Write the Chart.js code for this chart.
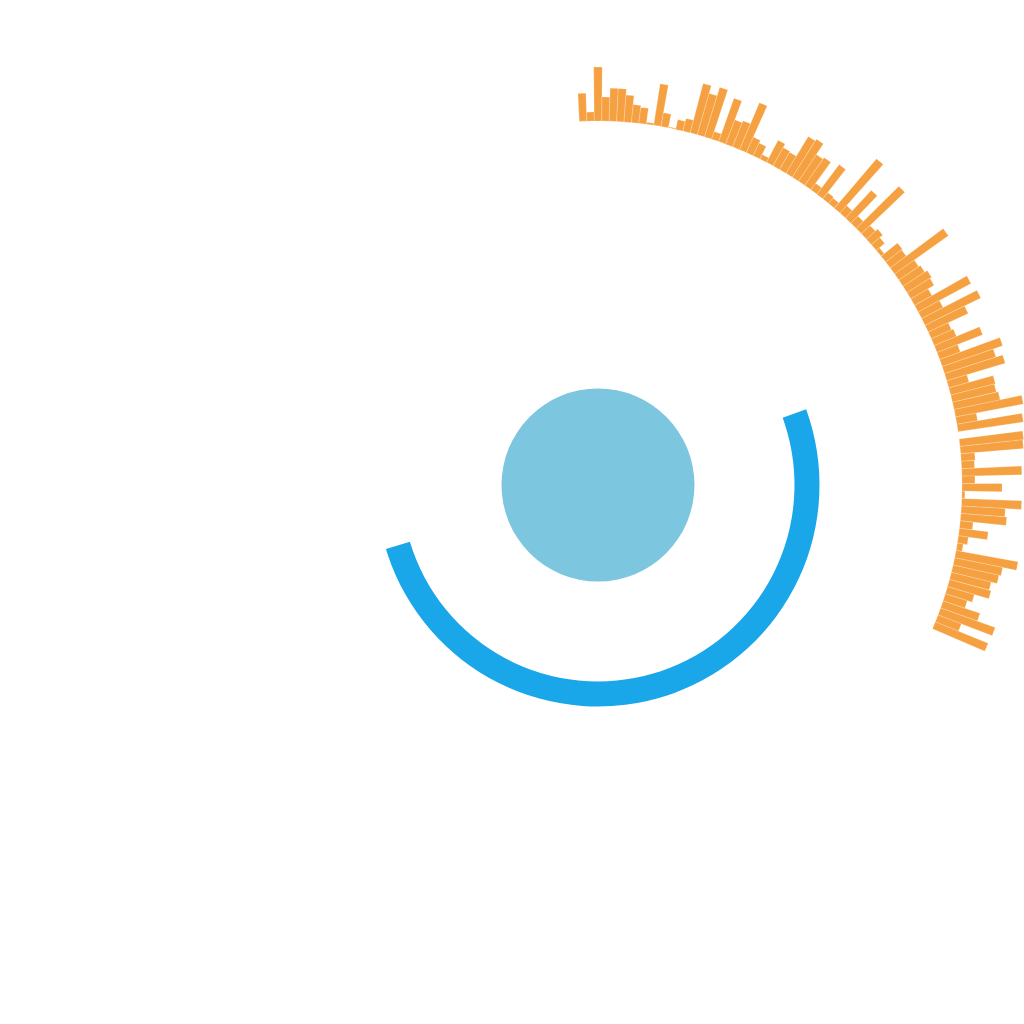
<!DOCTYPE html>
<html>
<head>
<meta charset="utf-8">
<script src="https://cdn.jsdelivr.net/npm/chart.js@4.4.1/dist/chart.umd.min.js"></script>
<style>
html,body{margin:0;padding:0;background:#ffffff;overflow:hidden}
#wrap{position:relative;width:1024px;height:1024px}
#wrap canvas{position:absolute;left:0;top:0}
</style>
</head>
<body>
<div id="wrap">
<canvas id="bars" width="1024" height="1024"></canvas>
<canvas id="rings" width="1024" height="1024"></canvas>
</div>
<script>
// ---- data ----
const barValues = [
  28, 9, 54, 24, 33, 33, 27, 18, 16, 2,
  42, 14, 1, 10, 13, 51, 43, 52, 8, 46,
  26, 28, 51, 17, 14, 5, 25, 21, 20, 43,
  45, 32, 34, 8, 37, 8, 7, 65, 10, 38,
  10, 60, 12, 15, 11, 4, 21, 20, 66, 24,
  26, 29, 27, 20, 60, 24, 62, 44, 22, 24,
  49, 22, 64, 54, 61, 21, 46, 45, 47, 69,
  21, 66, 0, 64, 63, 14, 13, 60, 13, 40,
  3, 60, 44, 46, 13, 29, 10, 6, 63, 49,
  47, 41, 43, 28, 23, 39, 58, 25, 57
];
const barLabels = barValues.map((v, i) => 'B' + (i + 1));
const barStartDeg = -2.94;     // where the first bar starts (degrees, clockwise from top)
const barSpanDeg = 116.2;      // total sweep of the bars
const ringSegments = [70, 183.2, 106.8]; // degrees: lead gap, blue arc, remaining gap
const centerValue = [1];

// ---- style ----
const ORANGE = '#F6A141';
const BLUE = '#1AA7EA';
const LIGHT = '#7DC6DF';
const PAD = {left: 172, top: 59, right: 0, bottom: 113};

const barWidthDeg = barSpanDeg / barValues.length;
const spacerDeg = 360 - barSpanDeg;

const barBase = {
  id: 'barBase',
  afterDatasetsUpdate(chart) {
    const scale = chart.scales.r;
    const inner = scale.getDistanceFromCenterForValue(0);
    chart.getDatasetMeta(0).data.forEach(arc => { arc.innerRadius = inner; });
  }
};

new Chart(document.getElementById('bars'), {
  type: 'polarArea',
  data: {
    labels: [...barLabels, ''],
    datasets: [{
      data: [...barValues, 0],
      backgroundColor: ctx => ctx.dataIndex < barValues.length ? ORANGE : 'rgba(0,0,0,0)',
      borderColor: 'rgba(255,255,255,0.4)',
      borderWidth: ctx => (ctx.dataIndex < barValues.length && barValues[ctx.dataIndex] > 0) ? 0.5 : 0,
      angle: ctx => ctx.dataIndex < barValues.length ? barWidthDeg : spacerDeg,
      clip: false
    }]
  },
  options: {
    responsive: false,
    animation: false,
    devicePixelRatio: 1,
    layout: {padding: PAD},
    plugins: {legend: {display: false}, tooltip: {enabled: false}},
    scales: {
      r: {
        display: false,
        min: -364,
        max: 62,
        startAngle: barStartDeg,
        ticks: {display: false},
        grid: {display: false},
        angleLines: {display: false},
        pointLabels: {display: false}
      }
    }
  },
  plugins: [barBase]
});

new Chart(document.getElementById('rings'), {
  type: 'doughnut',
  data: {
    labels: ['gap', 'arc', 'rest'],
    datasets: [
      {data: ringSegments, backgroundColor: ['rgba(0,0,0,0)', BLUE, 'rgba(0,0,0,0)'], borderWidth: 0, weight: 25},
      {data: [1], backgroundColor: ['rgba(0,0,0,0)'], borderWidth: 0, weight: 100},
      {data: centerValue, backgroundColor: [LIGHT], borderWidth: 0, weight: 96.5}
    ]
  },
  options: {
    responsive: false,
    animation: false,
    devicePixelRatio: 1,
    radius: 221.5,
    cutout: 0,
    layout: {padding: PAD},
    plugins: {legend: {display: false}, tooltip: {enabled: false}}
  }
});
</script>
</body>
</html>
